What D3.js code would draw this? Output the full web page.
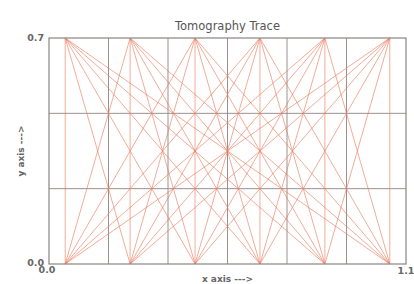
<!DOCTYPE html>
<html>
<head>
<meta charset="utf-8">
<script src="https://cdn.jsdelivr.net/npm/d3@7"></script>
<style>
  body { margin: 0; background: #fff; }
  text { font-family: "DejaVu Sans", Verdana, sans-serif; }
</style>
</head>
<body>
<div id="chart"></div>
<script>
// Source (top, y = 0.7) and receiver (bottom, y = 0.0) positions
const sourceX = [0.05, 0.25, 0.45, 0.65, 0.85, 1.05];
const receiverX = [0.05, 0.25, 0.45, 0.65, 0.85, 1.05];
const sourceY = 0.7;
const receiverY = 0.0;
const xTickLabels = ['0.0', '1.1'];
const yTickLabels = ['0.0', '0.7'];
const xDomain = [0, 1.1];
const yDomain = [0, 0.7];
const xGridCount = 6;
const yGridCount = 3;

const width = 414, height = 284;
const margin = { top: 38, right: 8, bottom: 20, left: 49 };
const innerW = width - margin.left - margin.right;
const innerH = height - margin.top - margin.bottom;

const svg = d3.select('#chart')
    .append('svg')
    .attr('width', width)
    .attr('height', height);

const graph = svg.append('g')
    .attr('transform', `translate(${margin.left}, ${margin.top})`);

const x = d3.scaleLinear().domain(xDomain).range([0, innerW]);
const y = d3.scaleLinear().domain(yDomain).range([innerH, 0]);

// grid lines
const xGrid = d3.range(1, xGridCount).map(i => xDomain[0] + i * (xDomain[1] - xDomain[0]) / xGridCount);
const yGrid = d3.range(1, yGridCount).map(i => yDomain[0] + i * (yDomain[1] - yDomain[0]) / yGridCount);

graph.selectAll('.vgrid')
    .data(xGrid)
    .enter()
    .append('line')
    .attr('x1', d => x(d)).attr('x2', d => x(d))
    .attr('y1', 0).attr('y2', innerH)
    .attr('stroke', '#9a918c')
    .attr('stroke-width', 1);

graph.selectAll('.hgrid')
    .data(yGrid)
    .enter()
    .append('line')
    .attr('x1', 0).attr('x2', innerW)
    .attr('y1', d => y(d)).attr('y2', d => y(d))
    .attr('stroke', '#9a918c')
    .attr('stroke-width', 1);

// rays: every source to every receiver
const rays = [];
sourceX.forEach(s => receiverX.forEach(r => rays.push({ s, r })));

graph.selectAll('.ray')
    .data(rays)
    .enter()
    .append('line')
    .attr('x1', d => x(d.s)).attr('y1', y(sourceY))
    .attr('x2', d => x(d.r)).attr('y2', y(receiverY))
    .attr('stroke', '#ea7a5c')
    .attr('stroke-opacity', 0.7)
    .attr('stroke-width', 0.9);

// plot frame
graph.append('rect')
    .attr('x', 0).attr('y', 0)
    .attr('width', innerW).attr('height', innerH)
    .attr('fill', 'none')
    .attr('stroke', '#8a8480')
    .attr('stroke-width', 1.2);

// tick labels
graph.append('text')
    .attr('x', -5).attr('y', y(yDomain[1]) + 3)
    .attr('text-anchor', 'end')
    .attr('font-size', '9.5px').attr('font-weight', 'bold')
    .style('fill', '#666')
    .text(yTickLabels[1]);

graph.append('text')
    .attr('x', -5).attr('y', y(yDomain[0]) + 2)
    .attr('text-anchor', 'end')
    .attr('font-size', '9.5px').attr('font-weight', 'bold')
    .style('fill', '#666')
    .text(yTickLabels[0]);

graph.append('text')
    .attr('x', x(xDomain[0]) - 2).attr('y', innerH + 9)
    .attr('text-anchor', 'middle')
    .attr('font-size', '9.5px').attr('font-weight', 'bold')
    .style('fill', '#666')
    .text(xTickLabels[0]);

graph.append('text')
    .attr('x', x(xDomain[1]))
    .attr('y', innerH + 10)
    .attr('text-anchor', 'middle')
    .attr('font-size', '9.5px').attr('font-weight', 'bold')
    .style('fill', '#666')
    .text(xTickLabels[1]);

// title
graph.append('text')
    .attr('x', innerW / 2).attr('y', -8)
    .attr('text-anchor', 'middle')
    .attr('font-size', '11.5px')
    .style('fill', '#555')
    .text('Tomography Trace');

// axis labels
graph.append('text')
    .attr('x', innerW / 2).attr('y', innerH + 18)
    .attr('text-anchor', 'middle')
    .attr('font-size', '9px').attr('font-weight', 'bold')
    .style('fill', '#666')
    .text('x axis --->');

graph.append('text')
    .attr('transform', 'rotate(-90)')
    .attr('x', -innerH / 2).attr('y', -25)
    .attr('text-anchor', 'middle')
    .attr('font-size', '9px').attr('font-weight', 'bold')
    .style('fill', '#666')
    .text('y axis --->');
</script>
</body>
</html>
